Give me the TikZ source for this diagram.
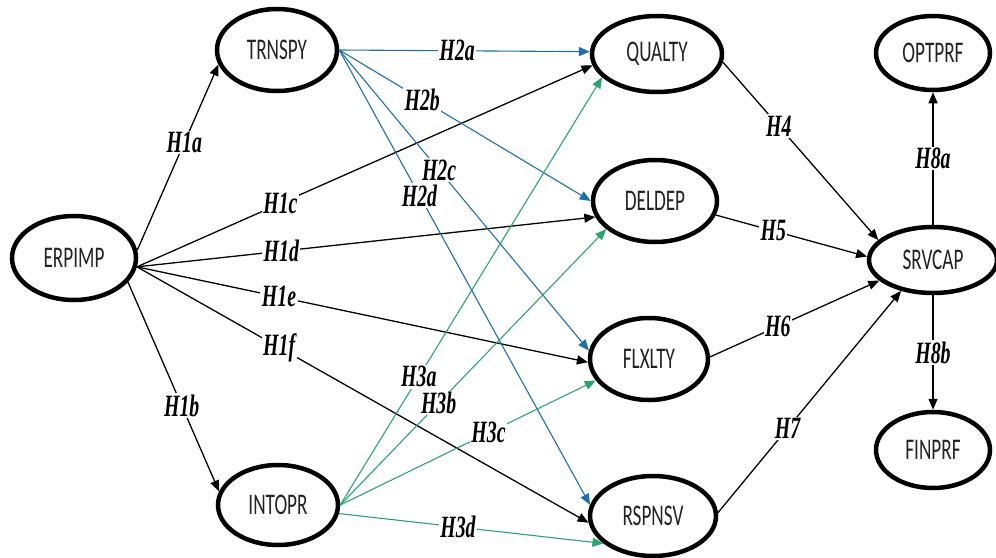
\documentclass[tikz,border=0pt]{standalone}
\usepackage{fontspec}
\usetikzlibrary{shapes.geometric,arrows.meta}
\newfontfamily\constructfont[FakeStretch=0.64]{Carlito}
\newfontfamily\hypfont[FakeStretch=0.64]{Liberation Serif}
\definecolor{linkblue}{RGB}{31,112,170}
\definecolor{linkgreen}{RGB}{42,165,112}
\definecolor{inktext}{RGB}{35,35,35}
\tikzset{
  construct/.style={ellipse, draw=black, line width=4.5pt, inner sep=0pt,
    text=inktext, font=\constructfont\fontsize{30}{32}\selectfont},
  hyp/.style={-{Triangle[length=11pt,width=9pt]}, line width=1.3pt},
  hypblue/.style={hyp, draw=linkblue, line width=1.1pt},
  hypgreen/.style={hyp, draw=linkgreen, line width=1.1pt},
  lab/.style={fill=white, inner sep=1.5pt, text=black,
    font=\hypfont\bfseries\itshape\fontsize{31}{33}\selectfont}
}
\begin{document}
\begin{tikzpicture}[x=1pt,y=-1pt]
\useasboundingbox[fill=white] (0,0) rectangle (996,557);

% constructs
\node[construct, minimum width=124pt, minimum height=84pt] (erp) at (74,258) {ERPIMP};
\node[construct, minimum width=120pt, minimum height=82pt] (trn) at (277,50) {TRNSPY};
\node[construct, minimum width=120pt, minimum height=80pt] (int) at (278,505) {INTOPR};
\node[construct, minimum width=130pt, minimum height=76pt] (qua) at (657,54) {QUALTY};
\node[construct, minimum width=124pt, minimum height=82pt] (del) at (655,201) {DELDEP};
\node[construct, minimum width=118pt, minimum height=82pt] (flx) at (649,359) {FLXLTY};
\node[construct, minimum width=126pt, minimum height=80pt] (rsp) at (653,516) {RSPNSV};
\node[construct, minimum width=128pt, minimum height=66pt] (srv) at (933,260) {SRVCAP};
\node[construct, minimum width=114pt, minimum height=74pt] (opt) at (933,53) {OPTPRF};
\node[construct, minimum width=114pt, minimum height=76pt] (fin) at (933,450) {FINPRF};

% H1: ERPIMP paths
\draw[hyp] (erp.7) -- node[lab, pos=0.58] {H1a} (trn.194);
\draw[hyp] (erp.-24) -- node[lab, pos=0.59] {H1b} (int.167);
\draw[hyp] (erp.-8) -- node[lab, pos=0.315] {H1c} (qua.190);
\draw[hyp] (erp.-8) -- node[lab, pos=0.315] {H1d} (del.195);
\draw[hyp] (erp.-8) -- node[lab, pos=0.315] {H1e} (flx.183);
\draw[hyp] (erp.-8) -- node[lab, pos=0.315] {H1f} (rsp.186);

% H2: TRNSPY paths
\draw[hypblue] (trn.east) -- node[lab, pos=0.47] {H2a} (qua.178);
\draw[hypblue] (trn.east) -- node[lab, pos=0.33] {H2b} (del.180);
\draw[hypblue] (trn.east) -- node[lab, pos=0.40] {H2c} (flx.172);
\draw[hypblue] (trn.east) -- node[lab, pos=0.32] {H2d} (rsp.170);

% H3: INTOPR paths
\draw[hypgreen] (int.east) -- node[lab, pos=0.30] {H3a} (qua.203);
\draw[hypgreen] (int.east) -- node[lab, pos=0.37] {H3b} (del.210);
\draw[hypgreen] (int.east) -- node[lab, pos=0.58] {H3c} (flx.202);
\draw[hypgreen] (int.-8) -- node[lab, pos=0.45] {H3d} (rsp.209);

% H4-H7: capabilities to SRVCAP
\draw[hyp] (qua.-7) -- node[lab, pos=0.36] {H4} (srv.160);
\draw[hyp] (del.-13) -- node[lab, pos=0.38] {H5} (srv.177);
\draw[hyp] (flx.2) -- node[lab, pos=0.40] {H6} (srv.201);
\draw[hyp] (rsp.3) -- node[lab, pos=0.38] {H7} (srv.224);

% H8: SRVCAP to performance
\draw[hyp] (srv.north) -- node[lab, pos=0.5] {H8a} (opt.south);
\draw[hyp] (srv.south) -- node[lab, pos=0.5] {H8b} (fin.north);
\end{tikzpicture}
\end{document}
